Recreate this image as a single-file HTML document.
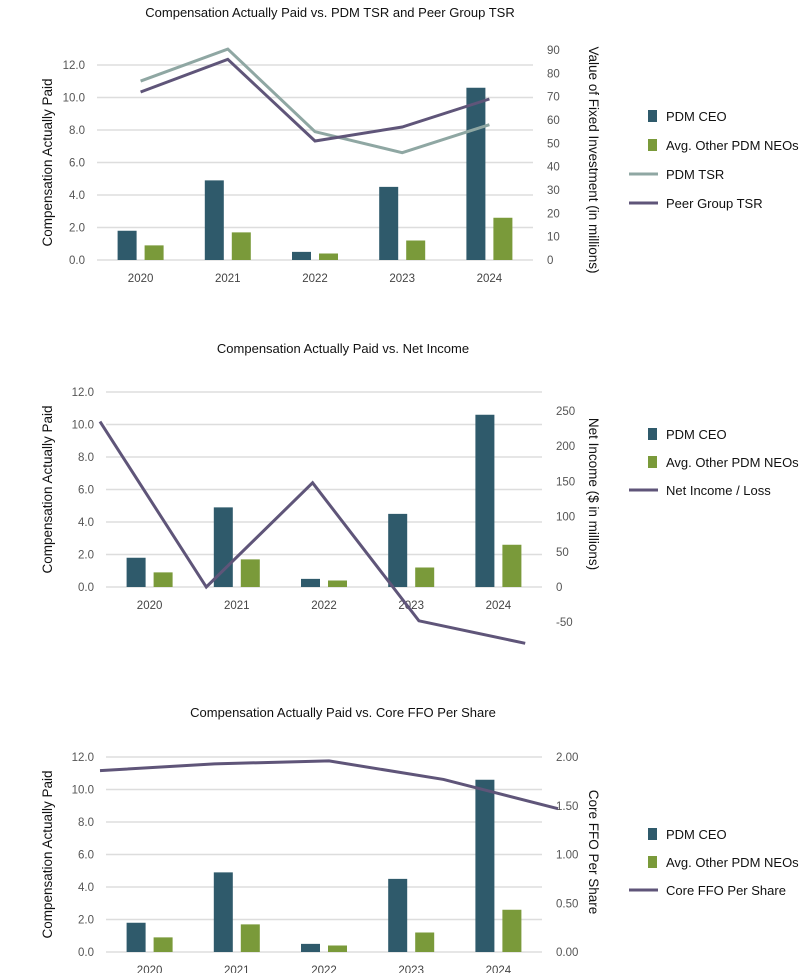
<!DOCTYPE html>
<html><head><meta charset="utf-8"><style>
body{margin:0;background:#fff;}
svg{display:block;font-family:"Liberation Sans Narrow","Liberation Sans",sans-serif;}
</style></head><body>
<svg id="s" width="800" height="973"></svg>
<script>
const years=["2020","2021","2022","2023","2024"];
const ceoValues=[1.8,4.9,0.5,4.5,10.6];
const neoValues=[0.9,1.7,0.4,1.2,2.6];
const leftTicks=[0,2,4,6,8,10,12];
const pdmTsr=[76.7,90.4,55,46,58];
const peerTsr=[72,86,51,57,69];
const tsrTicks=[0,10,20,30,40,50,60,70,80,90];
const netIncome=[235,0,148,-48,-80];
const niTicks=[-50,0,50,100,150,200,250];
const coreFfo=[1.86,1.93,1.96,1.77,1.47];
const ffoTicks=["0.00","0.50","1.00","1.50","2.00"];

const S=document.getElementById('s');
const NS='http://www.w3.org/2000/svg';
function el(t,a,txt){const e=document.createElementNS(NS,t);for(const k in a)e.setAttribute(k,a[k]);if(txt!==undefined)e.textContent=txt;S.appendChild(e);return e;}
const CEO='#2f5a6b',NEO='#7a9a3a',PURP='#5f5579',GRAY='#8fa7a3';

function chart(c){
  const ly=v=>c.y0-(v/12)*(c.y0-c.y12);
  const cw=(c.x1-c.x0)/5;
  const cx=i=>c.x0+cw*(i+0.5);
  let t=el('text',{x:c.titleX,y:c.titleY,'font-size':13,'text-anchor':'middle',fill:'#111'},c.title);
  
  leftTicks.forEach(v=>{
    const g=el('line',{x1:c.x0,x2:c.x1,y1:ly(v),y2:ly(v),stroke:'#ddd','stroke-width':1.5});
    
    const l=el('text',{x:c.x0-12,y:ly(v)+4,'font-size':11.5,'text-anchor':'end',fill:'#555'},v.toFixed(1));
    
  });
  years.forEach((y,i)=>{
    const l=el('text',{x:cx(i),y:c.y0+22,'font-size':11.5,'text-anchor':'middle',fill:'#444'},y);
    
    const b1=el('rect',{x:cx(i)-23,y:ly(ceoValues[i]),width:19,height:c.y0-ly(ceoValues[i]),fill:CEO});
    
    const b2=el('rect',{x:cx(i)+4,y:ly(neoValues[i]),width:19,height:c.y0-ly(neoValues[i]),fill:NEO});
    
  });
  let a=el('text',{transform:`translate(52,${(c.y0+c.y12)/2}) rotate(-90)`,'font-size':13.5,'text-anchor':'middle',fill:'#111','font-family':'Liberation Sans'},'Compensation Actually Paid');
  
  // right axis
  const ry=v=>c.ry0-(v-c.rmin0)/(c.rmax-c.rmin0)*(c.ry0-c.rytop);
  c.rticks.forEach(v=>{
    const l=el('text',{x:c.x1+14,y:ry(+v)+4,'font-size':11.5,fill:'#555'},v);
    
  });
  a=el('text',{transform:`translate(${c.rtx},${c.rtc}) rotate(90)`,'font-size':13.5,'text-anchor':'middle',fill:'#111','font-family':'Liberation Sans'},c.rtitle);
  
  c.lines.forEach(L=>{
    const px=i=>L.xs!==undefined?L.xs+i*L.dx:cx(i);
    const p=el('polyline',{points:L.data.map((v,i)=>px(i)+','+ry(v)).join(' '),fill:'none',stroke:L.color,'stroke-width':3});
    
  });
  c.legend.forEach((g,i)=>{
    const y=c.legY+i*c.legDy;
    if(g.type==='bar'){const r=el('rect',{x:648,y:y-6,width:9,height:12,fill:g.color});}
    else {const r=el('line',{x1:629,x2:658,y1:y,y2:y,stroke:g.color,'stroke-width':3});}
    const tx=el('text',{x:666,y:y+5,'font-size':13,fill:'#111'},g.label);
    
  });
}
const barLeg=[{type:'bar',color:CEO,label:'PDM CEO'},{type:'bar',color:NEO,label:'Avg. Other PDM NEOs'}];
chart({title:'Compensation Actually Paid vs. PDM TSR and Peer Group TSR',titleX:330,titleY:17,
  x0:97,x1:533,y0:260,y12:65,rmin0:0,rmax:90,ry0:260,rytop:50,rticks:tsrTicks.map(String),
  rtx:589,rtc:160,rtitle:'Value of Fixed Investment (in millions)',
  lines:[{data:pdmTsr,color:GRAY,name:'pdm-tsr'},{data:peerTsr,color:PURP,name:'peer-tsr'}],
  legY:116,legDy:29,legend:barLeg.concat([{type:'line',color:GRAY,label:'PDM TSR'},{type:'line',color:PURP,label:'Peer Group TSR'}])});
chart({title:'Compensation Actually Paid vs. Net Income',titleX:343,titleY:353,
  x0:106,x1:542,y0:587,y12:392,rmin0:0,rmax:250,ry0:587,rytop:411,rticks:niTicks.map(String),
  rtx:589,rtc:494,rtitle:'Net Income ($ in millions)',
  lines:[{data:netIncome,color:PURP,name:'net-income',xs:100,dx:106.3}],
  legY:434,legDy:28,legend:barLeg.concat([{type:'line',color:PURP,label:'Net Income / Loss'}])});
chart({title:'Compensation Actually Paid vs. Core FFO Per Share',titleX:343,titleY:717,
  x0:106,x1:542,y0:952,y12:757,rmin0:0,rmax:2,ry0:952,rytop:757,rticks:ffoTicks,
  rtx:589,rtc:852,rtitle:'Core FFO Per Share',
  lines:[{data:coreFfo,color:PURP,name:'core-ffo',xs:100,dx:114.5}],
  legY:834,legDy:28,legend:barLeg.concat([{type:'line',color:PURP,label:'Core FFO Per Share'}])});
</script>
</body></html>
